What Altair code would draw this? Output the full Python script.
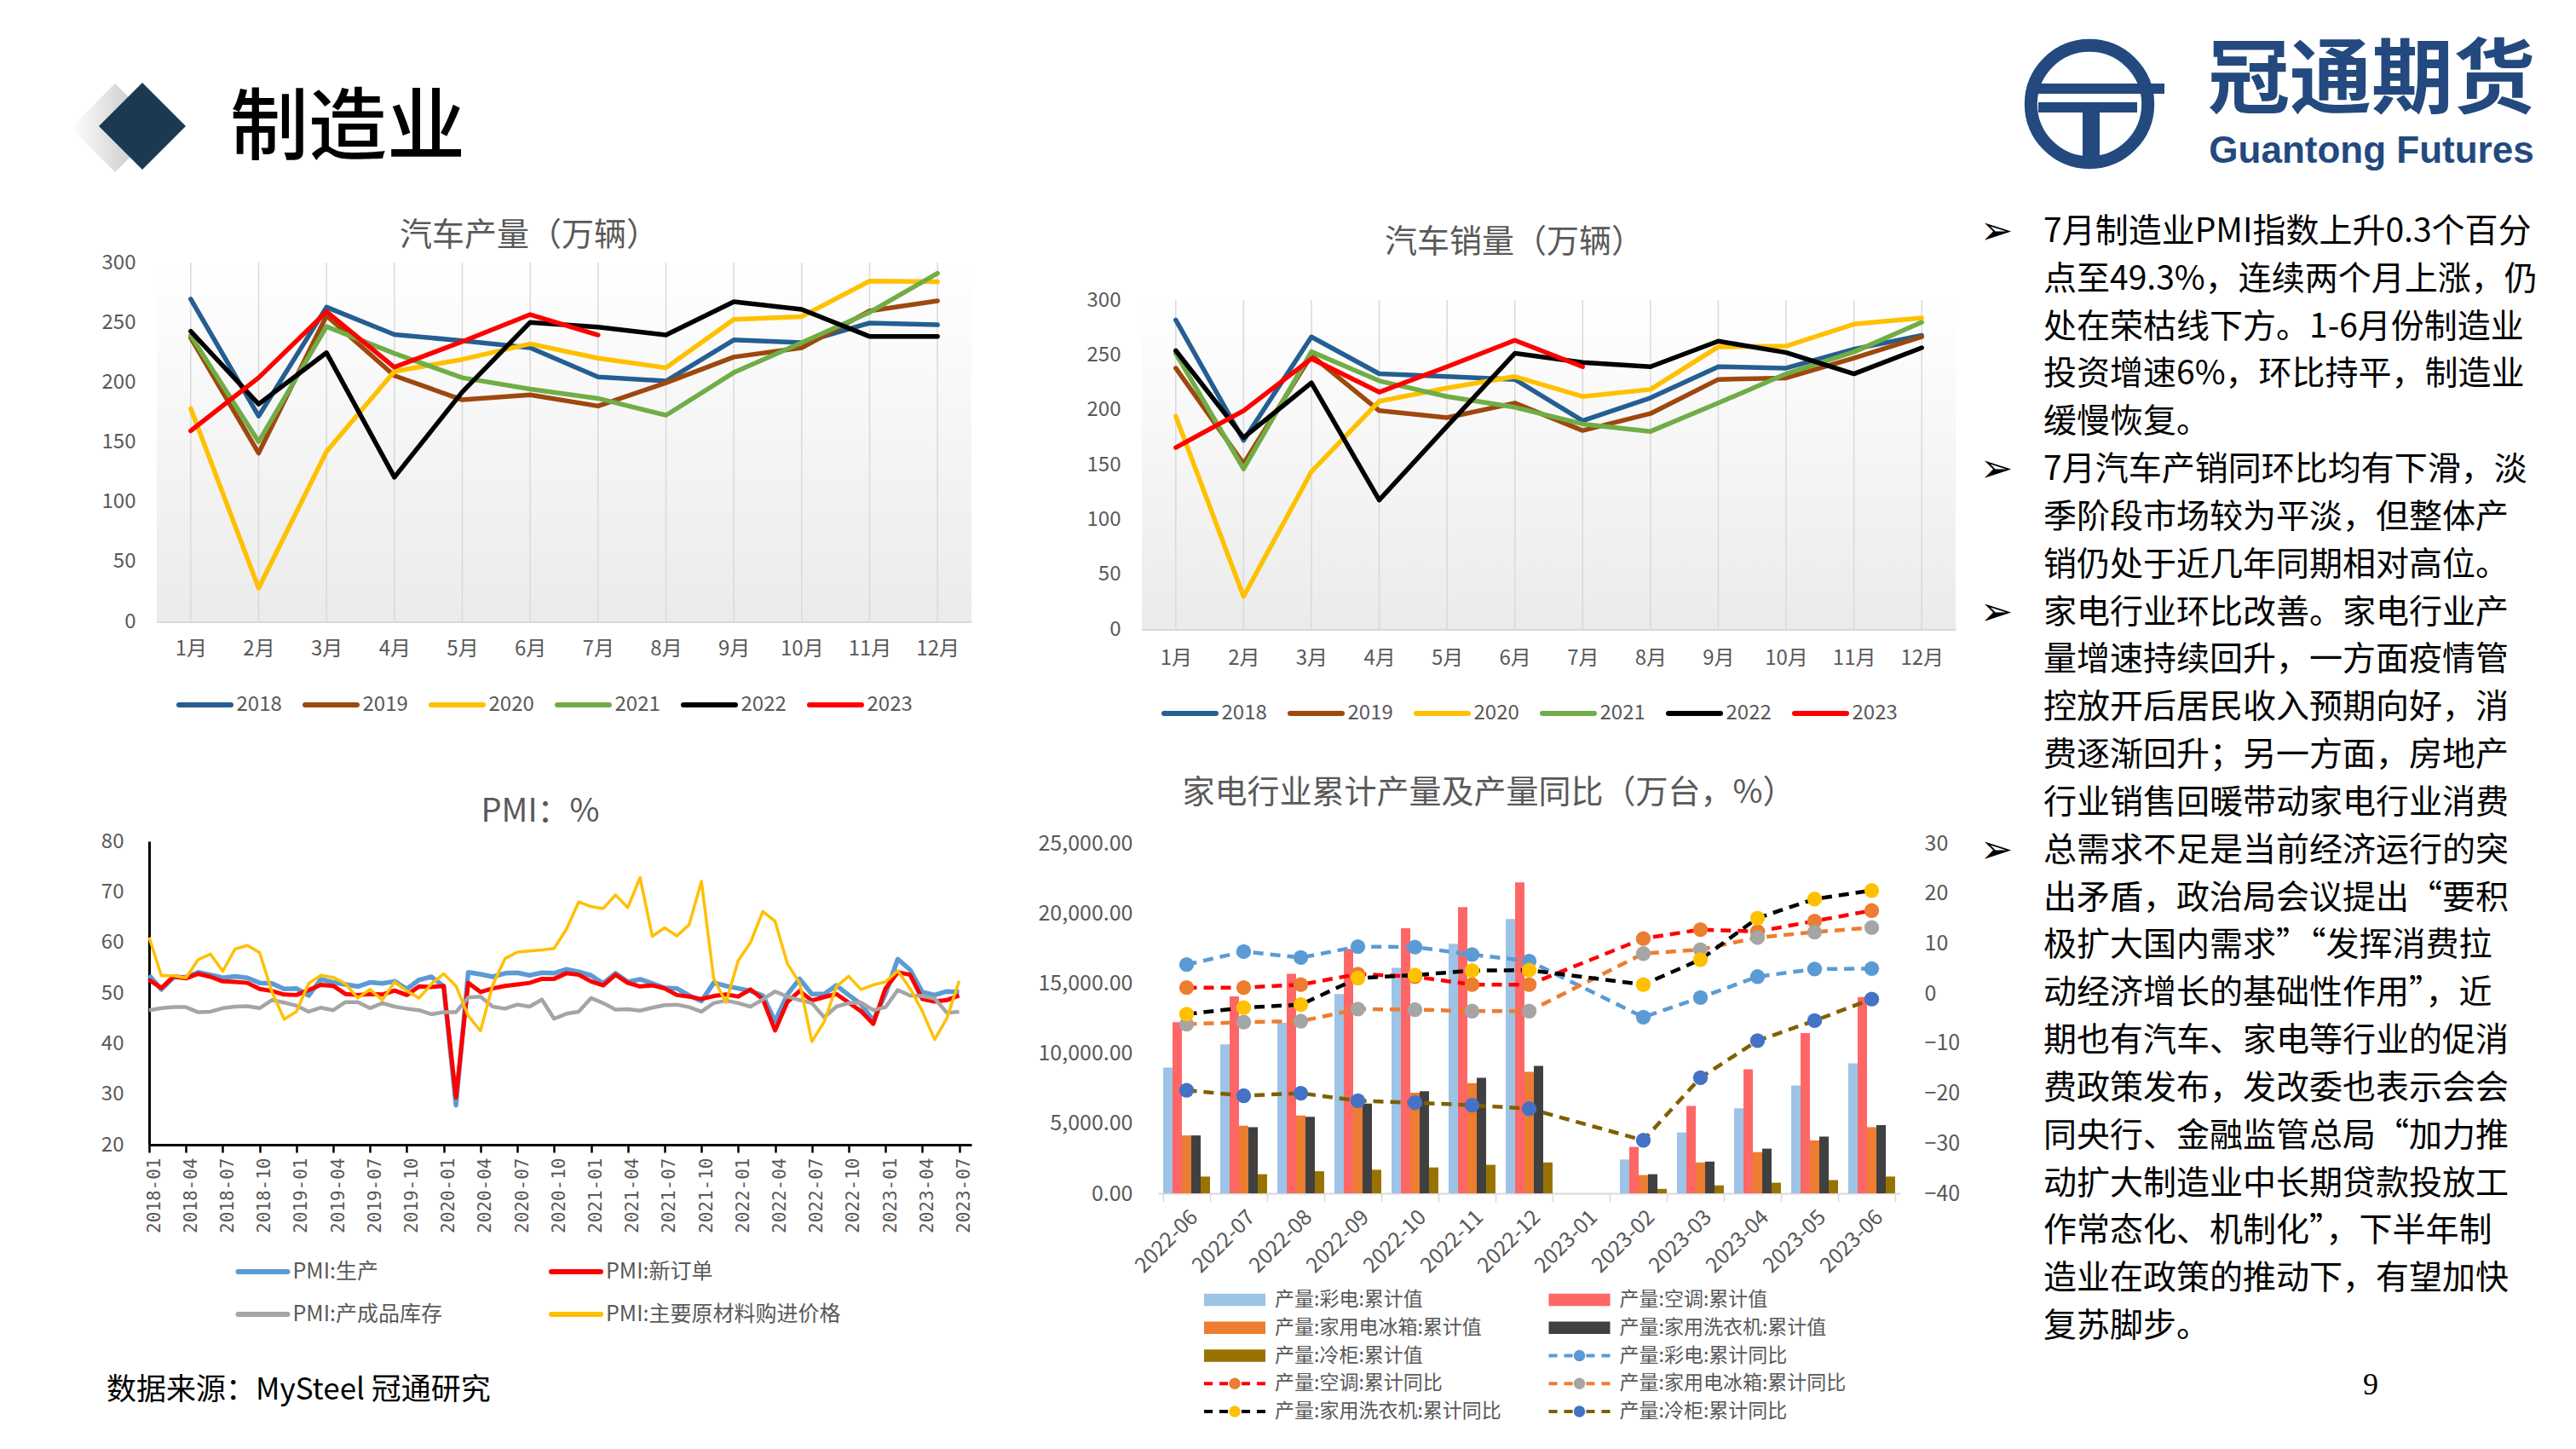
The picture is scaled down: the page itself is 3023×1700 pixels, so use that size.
import json
import altair as alt
import pandas as pd

FONT = "Noto Sans CJK SC"
TXT = "#595959"
W, H = 3007, 1684
M = 8


def px(v):
    return v - M


# ---------------- data ----------------
MONTHS = ["1月", "2月", "3月", "4月", "5月", "6月", "7月", "8月", "9月", "10月", "11月", "12月"]
YEARS = ["2018", "2019", "2020", "2021", "2022", "2023"]
YEAR_COLORS = ["#255E91", "#9E480E", "#FFC000", "#70AD47", "#000000", "#FF0000"]

PROD_2018 = [269.5, 171.6, 262.7, 239.8, 234.6, 228.7, 204.4, 200.9, 235.3, 233.0, 249.4, 247.9]
PROD_2019 = [237.0, 140.7, 255.5, 205.4, 185.2, 189.4, 180.0, 199.4, 221.0, 228.7, 259.6, 267.9]
PROD_2020 = [178.0, 27.8, 142.0, 209.0, 219.0, 232.0, 220.0, 212.0, 252.4, 254.8, 284.5, 284.0]
PROD_2021 = [238.9, 150.2, 246.5, 224.0, 203.7, 194.2, 186.4, 172.3, 208.0, 233.0, 258.4, 291.0]
PROD_2022 = [242.5, 181.6, 224.6, 120.5, 191.8, 250.0, 246.0, 239.4, 267.2, 260.8, 238.2, 238.2]
PROD_2023 = [159.3, 203.7, 258.9, 212.5, 233.9, 256.5, 239.4]

SALES_2018 = [281.9, 172.0, 266.4, 232.8, 230.2, 227.6, 190.0, 210.8, 239.2, 237.9, 255.2, 267.7]
SALES_2019 = [237.9, 150.8, 249.6, 199.1, 192.7, 206.1, 181.0, 196.5, 227.6, 228.9, 247.0, 266.4]
SALES_2020 = [194.0, 29.7, 143.5, 207.7, 219.8, 230.2, 212.0, 218.5, 257.3, 258.0, 278.0, 283.7]
SALES_2021 = [251.4, 146.1, 252.9, 226.3, 212.0, 202.2, 187.0, 180.2, 206.1, 232.7, 252.7, 279.8]
SALES_2022 = [253.9, 174.6, 224.5, 117.7, 184.9, 251.4, 243.0, 239.2, 262.5, 252.1, 232.7, 256.5]
SALES_2023 = [165.5, 199.1, 246.5, 216.0, 239.2, 263.3, 239.2]

PMI_MONTHS = [f"{y}-{m:02d}" for y in range(2018, 2024) for m in range(1, 13)][:67]
PMI_SERIES = ["PMI:生产", "PMI:新订单", "PMI:产成品库存", "PMI:主要原材料购进价格"]
PMI_COLORS = ["#5B9BD5", "#FF0000", "#A5A5A5", "#FFC000"]
PMI_WIDTHS = [5.5, 5, 4.5, 3.5]
PMI_PROD = [53.5, 50.7, 53.1, 53.1, 54.1, 53.6, 53.0, 53.3, 53.0, 52.0, 51.9, 50.8,
            50.9, 49.5, 52.7, 52.1, 51.7, 51.3, 52.1, 51.9, 52.3, 50.8, 52.6, 53.2,
            51.3, 27.8, 54.1, 53.7, 53.2, 53.9, 54.0, 53.5, 54.0, 53.9, 54.7, 54.2,
            53.5, 51.9, 53.9, 52.2, 52.7, 51.9, 51.0, 50.9, 49.5, 48.4, 52.0, 51.4,
            50.9, 50.4, 49.5, 44.4, 49.7, 52.8, 49.8, 49.8, 51.5, 49.6, 47.8, 44.6,
            49.8, 56.7, 54.6, 50.2, 49.6, 50.3, 50.2]
PMI_NEW = [52.6, 51.0, 53.3, 52.9, 53.8, 53.2, 52.3, 52.2, 52.0, 50.8, 50.4, 49.7,
           49.6, 50.6, 51.6, 51.4, 49.8, 49.6, 49.8, 49.7, 50.5, 49.6, 51.3, 51.2,
           51.4, 29.3, 52.0, 50.2, 50.9, 51.4, 51.7, 52.0, 52.8, 52.8, 53.9, 53.6,
           52.3, 51.5, 53.6, 52.0, 51.3, 51.5, 50.9, 49.6, 49.3, 48.8, 49.4, 49.7,
           49.3, 50.7, 48.8, 42.6, 48.2, 50.4, 48.5, 49.2, 49.8, 48.1, 46.4, 43.9,
           50.9, 54.1, 53.6, 48.8, 48.3, 48.6, 49.5]
PMI_INV = [46.6, 47.0, 47.2, 47.2, 46.2, 46.3, 47.0, 47.3, 47.4, 47.0, 48.6, 48.1,
           47.5, 46.3, 47.1, 46.6, 48.2, 48.2, 47.0, 48.0, 47.3, 46.9, 46.6, 45.8,
           46.2, 46.2, 49.1, 49.3, 47.3, 46.9, 47.7, 47.3, 48.7, 44.9, 45.9, 46.3,
           49.0, 48.0, 46.7, 46.8, 46.5, 47.1, 47.6, 47.7, 47.2, 46.3, 48.0, 48.5,
           48.0, 47.3, 48.7, 50.3, 49.3, 48.6, 48.0, 45.2, 47.3, 48.0, 48.1, 46.6,
           47.2, 50.6, 49.5, 49.4, 48.9, 46.1, 46.3]
PMI_PRICE = [61.0, 53.4, 53.4, 53.0, 56.6, 57.7, 54.3, 58.7, 59.4, 58.0, 50.3, 44.8,
             46.3, 51.9, 53.5, 53.1, 51.8, 49.0, 50.7, 48.6, 52.2, 50.4, 49.0, 51.8,
             53.8, 51.4, 45.5, 42.5, 51.6, 56.8, 58.1, 58.3, 58.5, 58.8, 62.6, 68.0,
             67.1, 66.7, 69.4, 66.9, 72.8, 61.2, 62.9, 61.3, 63.5, 72.1, 52.9, 48.1,
             56.4, 60.0, 66.1, 64.2, 55.8, 52.0, 40.4, 44.3, 51.3, 53.3, 50.7, 51.6,
             52.2, 54.4, 50.9, 46.4, 40.8, 45.0, 52.4]

MONTHS4 = ["2022-06", "2022-07", "2022-08", "2022-09", "2022-10", "2022-11", "2022-12",
           "2023-01", "2023-02", "2023-03", "2023-04", "2023-05", "2023-06"]
BAR_SERIES = ["产量:彩电:累计值", "产量:空调:累计值", "产量:家用电冰箱:累计值",
              "产量:家用洗衣机:累计值", "产量:冷柜:累计值"]
LINE_SERIES = ["产量:彩电:累计同比", "产量:空调:累计同比", "产量:家用电冰箱:累计同比",
               "产量:家用洗衣机:累计同比", "产量:冷柜:累计同比"]
BAR_COLORS = ["#9DC3E6", "#FF6666", "#ED7D31", "#404040", "#997300"]
LINE_COLORS = ["#5B9BD5", "#FF0000", "#ED7D31", "#000000", "#7F6000"]
MARKER_COLORS = ["#5B9BD5", "#ED7D31", "#A5A5A5", "#FFC000", "#4472C4"]

TV_CUM = [8975, 10632, 12163, 14218, 16084, 17803, 19565, None, 2412, 4341, 6060, 7696, 9269]
AC_CUM = [12204, 14050, 15664, 17447, 18915, 20424, 22186, None, 3313, 6228, 8849, 11429, 14008]
FRIDGE_CUM = [4131, 4823, 5557, 6400, 7172, 7864, 8661, None, 1300, 2202, 2936, 3775, 4718]
WASHER_CUM = [4131, 4718, 5452, 6396, 7277, 8241, 9101, None, 1363, 2265, 3187, 4047, 4865]
FREEZER_CUM = [1195, 1363, 1573, 1678, 1845, 2034, 2202, None, 315, 566, 755, 944, 1195]

TV_YOY = [5.7, 8.3, 7.1, 9.3, 9.2, 7.7, 6.4, None, -4.8, -0.9, 3.3, 4.8, 4.9]
AC_YOY = [1.1, 1.1, 1.7, 3.8, 3.3, 1.7, 1.7, None, 10.9, 12.7, 12.3, 14.4, 16.5]
FRIDGE_YOY = [-6.2, -5.8, -5.6, -3.2, -3.3, -3.6, -3.6, None, 7.9, 8.7, 11.1, 12.2, 13.1]
WASHER_YOY = [-4.2, -2.9, -2.3, 3.0, 3.6, 4.5, 4.6, None, 1.7, 6.7, 15.0, 18.8, 20.5]
FREEZER_YOY = [-19.4, -20.5, -20.0, -21.5, -21.9, -22.4, -23.1, None, -29.4, -16.9, -9.5, -5.5, -1.2]

TEXT_LINES = [
    "7月制造业PMI指数上升0.3个百分",
    "点至49.3%，连续两个月上涨，仍",
    "处在荣枯线下方。1-6月份制造业",
    "投资增速6%，环比持平，制造业",
    "缓慢恢复。",
    "7月汽车产销同环比均有下滑，淡",
    "季阶段市场较为平淡，但整体产",
    "销仍处于近几年同期相对高位。",
    "家电行业环比改善。家电行业产",
    "量增速持续回升，一方面疫情管",
    "控放开后居民收入预期向好，消",
    "费逐渐回升；另一方面，房地产",
    "行业销售回暖带动家电行业消费",
    "总需求不足是当前经济运行的突",
    "出矛盾，政治局会议提出“要积",
    "极扩大国内需求”“发挥消费拉",
    "动经济增长的基础性作用”，近",
    "期也有汽车、家电等行业的促消",
    "费政策发布，发改委也表示会会",
    "同央行、金融监管总局“加力推",
    "动扩大制造业中长期贷款投放工",
    "作常态化、机制化”，下半年制",
    "造业在政策的推动下，有望加快",
    "复苏脚步。",
]
BULLET_ROWS = [0, 5, 8, 13]

BG_GRAD = {"gradient": "linear", "x1": 0, "y1": 0, "x2": 0, "y2": 1,
           "stops": [{"offset": 0, "color": "#FFFFFF"}, {"offset": 1, "color": "#EBEBEB"}]}


# ---------------- helpers ----------------
def label(text, x, y, size, color=TXT, font=FONT, align="center", weight="normal"):
    return alt.Chart(pd.DataFrame({"t": [text]})).mark_text(
        align=align, baseline="middle", fontSize=size, font=font, color=color, fontWeight=weight
    ).encode(text="t:N", x=alt.value(px(x)), y=alt.value(px(y)))


def year_frame(series):
    rows = []
    for year, vals in zip(YEARS, series):
        for k, v in enumerate(vals):
            rows.append({"m": k + 1, "year": year, "v": v})
    return pd.DataFrame(rows)


def car_panel(df, x0, x1, ybot, ytop, lab_pad):
    n = len(MONTHS)
    xs = alt.Scale(domain=[0.5, n + 0.5], range=[px(x0), px(x1)], nice=False, zero=False)
    ys = alt.Scale(domain=[0, 300], range=[px(ybot), px(ytop)], nice=False, zero=False)
    ax_x = alt.Axis(
        orient="bottom", offset=px(ybot) - H, values=list(range(1, n + 1)),
        labelExpr=f"{json.dumps(MONTHS, ensure_ascii=False)}[datum.value - 1]",
        domain=True, domainColor="#D9D9D9", domainWidth=3, ticks=False, grid=False,
        labelFont=FONT, labelFontSize=24, labelColor=TXT, labelPadding=lab_pad,
        labelFlush=False, labelOverlap=False, title=None)
    ax_y = alt.Axis(
        orient="left", offset=-px(x0), values=list(range(0, 301, 50)),
        domain=False, ticks=False, grid=False, labelFont=FONT, labelFontSize=24,
        labelColor=TXT, labelPadding=25, labelFlush=False, title=None)
    bg = alt.Chart(pd.DataFrame({"a": [0.5], "b": [n + 0.5], "lo": [0], "hi": [300]})).mark_rect(
        color=BG_GRAD).encode(
        x=alt.X("a:Q", scale=xs, axis=ax_x), x2=alt.X2("b"),
        y=alt.Y("lo:Q", scale=ys, axis=ax_y), y2=alt.Y2("hi"))
    grid = alt.Chart(pd.DataFrame({"a": list(range(1, n + 1)), "lo": [0] * n, "hi": [300] * n})).mark_rule(
        color="#D9D9D9", strokeWidth=1.5).encode(
        x=alt.X("a:Q", scale=xs, axis=ax_x),
        y=alt.Y("lo:Q", scale=ys, axis=ax_y), y2=alt.Y2("hi"))
    lines = alt.Chart(df).mark_line(strokeWidth=5.5, strokeJoin="round", strokeCap="round").encode(
        x=alt.X("m:Q", scale=xs, axis=ax_x),
        y=alt.Y("v:Q", scale=ys, axis=ax_y),
        color=alt.Color("year:N", scale=alt.Scale(domain=YEARS, range=YEAR_COLORS), legend=None),
    )
    return alt.layer(bg, grid, lines)


def leg_xy(ncols, nrows, xc, yc):
    if ncols > 1:
        x = alt.X("col:Q", scale=alt.Scale(domain=[0, ncols - 1], range=[px(xc[0]), px(xc[1])],
                                           nice=False, zero=False), axis=None)
    else:
        x = alt.value(px(xc[0]))
    if nrows > 1:
        y = alt.Y("row:Q", scale=alt.Scale(domain=[0, nrows - 1], range=[px(yc[0]), px(yc[1])],
                                           nice=False, zero=False), axis=None)
    else:
        y = alt.value(px(yc[0]))
    return x, y


def leg_frame(labels, ncols):
    return pd.DataFrame({"label": labels,
                         "col": [k % ncols for k in range(len(labels))],
                         "row": [k // ncols for k in range(len(labels))]})


def line_legend(labels, colors, ncols, xc, yc, sym, width, fsize, dx):
    df = leg_frame(labels, ncols)
    nrows = (len(labels) + ncols - 1) // ncols
    x, y = leg_xy(ncols, nrows, xc, yc)
    s = alt.Chart(df).mark_point(shape="M-1,0H1", size=sym ** 2, filled=False, strokeWidth=width,
                                 opacity=1, strokeCap="round").encode(
        x=x, y=y, color=alt.Color("label:N", scale=alt.Scale(domain=labels, range=colors), legend=None))
    t = alt.Chart(df).mark_text(align="left", baseline="middle", dx=dx, fontSize=fsize, font=FONT,
                                color=TXT).encode(x=x, y=y, text="label:N")
    return alt.layer(s, t)


# ---------------- header ----------------
shadow = alt.Chart(pd.DataFrame({"k": [0]})).mark_point(
    shape="diamond", size=104 ** 2, filled=True, opacity=1,
    fill={"gradient": "linear", "x1": 0, "y1": 0, "x2": 1, "y2": 0,
          "stops": [{"offset": 0, "color": "#FFFFFF"}, {"offset": 1, "color": "#B8B8B8"}]}
).encode(x=alt.value(px(135)), y=alt.value(px(150)))
diamond = alt.Chart(pd.DataFrame({"k": [0]})).mark_point(
    shape="diamond", size=102 ** 2, filled=True, opacity=1, color="#1B3A52"
).encode(x=alt.value(px(167)), y=alt.value(px(148)))
head_title = label("制造业", 270, 152, 92, color="#000000", align="left", weight=500)

LOGO = "#23497F"
ring = alt.Chart(pd.DataFrame({"k": [0]})).mark_point(
    shape="circle", size=18869, filled=False, strokeWidth=15, opacity=1, color=LOGO
).encode(x=alt.value(px(2452)), y=alt.value(px(122)))


def logo_rect(x0, x1, y0, y1):
    return alt.Chart(pd.DataFrame({"k": [0]})).mark_rect(color=LOGO).encode(
        x=alt.value(px(x0)), x2=alt.value(px(x1)), y=alt.value(px(y0)), y2=alt.value(px(y1)))


logo = alt.layer(
    ring,
    logo_rect(2388, 2540, 98, 110),
    logo_rect(2392, 2508, 120, 132),
    logo_rect(2444, 2464, 132, 192),
    label("冠通期货", 2783, 96, 96, color=LOGO, weight="bold"),
    label("Guantong Futures", 2783, 178, 44, color=LOGO, font="Liberation Sans", weight="bold"),
)

# ---------------- panel 1 & 2 ----------------
prod_df = year_frame([PROD_2018, PROD_2019, PROD_2020, PROD_2021, PROD_2022, PROD_2023])
sales_df = year_frame([SALES_2018, SALES_2019, SALES_2020, SALES_2021, SALES_2022, SALES_2023])

panel1 = car_panel(prod_df, 184, 1140, 729, 308, 20)
legend1 = line_legend(YEARS, YEAR_COLORS, 6, (240.5, 980.5), (827,), 61, 6, 24, 37)
title1 = label("汽车产量（万辆）", 621, 277, 38)

panel2 = car_panel(sales_df, 1340, 2295, 738, 352, 22)
legend2 = line_legend(YEARS, YEAR_COLORS, 6, (1396.5, 2136.5), (837,), 61, 6, 24, 37)
title2 = label("汽车销量（万辆）", 1777, 285, 38)

# ---------------- panel 3: PMI ----------------
xs3 = alt.Scale(domain=[0, 67], range=[px(175), px(1140)], nice=False, zero=False)
ys3 = alt.Scale(domain=[20, 80], range=[px(1343), px(987)], nice=False, zero=False)
ax3x = alt.Axis(orient="bottom", offset=px(1343) - H, values=list(range(0, 67, 3)),
                labelExpr=f"{json.dumps(PMI_MONTHS)}[datum.value]", labelAngle=270,
                labelFont="DejaVu Sans Mono", labelFontSize=21, labelColor=TXT,
                labelPadding=6, labelOffset=6, domainColor="#000000", domainWidth=3,
                tickColor="#000000", tickWidth=2.5, tickSize=9, grid=False,
                labelFlush=False, labelOverlap=False, title=None)
ax3y = alt.Axis(orient="left", offset=-px(175), values=list(range(20, 81, 10)),
                domainColor="#000000", domainWidth=3, ticks=False, grid=False,
                labelFont=FONT, labelFontSize=24, labelColor=TXT, labelPadding=30,
                labelFlush=False, title=None)
pmi_layers = []
for name, vals, col, wdt in zip(PMI_SERIES, [PMI_PROD, PMI_NEW, PMI_INV, PMI_PRICE], PMI_COLORS, PMI_WIDTHS):
    d = pd.DataFrame({"i": list(range(len(vals))), "v": vals, "s": name})
    pmi_layers.append(
        alt.Chart(d).mark_line(strokeWidth=wdt, color=col, strokeJoin="round").encode(
            x=alt.X("i:Q", scale=xs3, axis=ax3x), y=alt.Y("v:Q", scale=ys3, axis=ax3y)))
panel3 = alt.layer(*pmi_layers)
legend3 = line_legend(PMI_SERIES, PMI_COLORS, 2, (308.5, 676), (1492, 1542), 58, 6, 25, 35)
title3 = label("PMI：%", 634, 953, 38)

# ---------------- panel 4: appliances ----------------
bar_rows = []
for s, vals in zip(BAR_SERIES, [TV_CUM, AC_CUM, FRIDGE_CUM, WASHER_CUM, FREEZER_CUM]):
    for mth, v in zip(MONTHS4, vals):
        if v is not None:
            bar_rows.append({"mon": mth, "s": s, "v": v})
bar_df = pd.DataFrame(bar_rows)
line_rows = []
for s, vals in zip(LINE_SERIES, [TV_YOY, AC_YOY, FRIDGE_YOY, WASHER_YOY, FREEZER_YOY]):
    for mth, v in zip(MONTHS4, vals):
        if v is not None:
            line_rows.append({"mon": mth, "s": s, "v": v})
line_df = pd.DataFrame(line_rows)

xs4 = alt.Scale(type="band", domain=MONTHS4, range=[px(1359), px(2230)], paddingInner=0.18, paddingOuter=0.09)
ysL = alt.Scale(domain=[0, 25000], range=[px(1400), px(989)], nice=False, zero=False)
ysR = alt.Scale(domain=[-40, 30], range=[px(1400), px(989)], nice=False, zero=False)
ax4x = alt.Axis(orient="bottom", offset=px(1400) - H, labelAngle=315, labelFont=FONT, labelFontSize=25,
                labelColor=TXT, labelPadding=5, tickBand="extent", ticks=True, tickColor="#D9D9D9",
                tickSize=10, tickWidth=1.5, domainColor="#D9D9D9", domainWidth=2, grid=False,
                labelOverlap=False, title=None)
ax4L = alt.Axis(orient="left", offset=-px(1359), values=list(range(0, 25001, 5000)), format=",.2f",
                domain=False, ticks=False, grid=False, labelFont=FONT, labelFontSize=25, labelColor=TXT,
                labelPadding=30, labelFlush=False, title=None)
ax4R = alt.Axis(orient="right", offset=px(2230) - W, values=list(range(-40, 31, 10)),
                domain=False, ticks=False, grid=False, labelFont=FONT, labelFontSize=25, labelColor=TXT,
                labelPadding=28, labelFlush=False, title=None)

bars = alt.Chart(bar_df).mark_bar().encode(
    x=alt.X("mon:N", scale=xs4, axis=ax4x),
    xOffset=alt.XOffset("s:N", scale=alt.Scale(domain=BAR_SERIES)),
    y=alt.Y("v:Q", scale=ysL, axis=ax4L),
    color=alt.Color("s:N", scale=alt.Scale(domain=BAR_SERIES, range=BAR_COLORS), legend=None),
)
yoy_lines = alt.Chart(line_df).mark_line(strokeDash=[12, 8], strokeWidth=4.5).encode(
    x=alt.X("mon:N", scale=xs4, axis=ax4x),
    y=alt.Y("v:Q", scale=ysR, axis=ax4R),
    color=alt.Color("s:N", scale=alt.Scale(domain=LINE_SERIES, range=LINE_COLORS), legend=None),
)
yoy_pts = alt.Chart(line_df).mark_circle(size=300, opacity=1).encode(
    x=alt.X("mon:N", scale=xs4, axis=ax4x),
    y=alt.Y("v:Q", scale=ysR, axis=ax4R),
    fill=alt.Fill("s:N", scale=alt.Scale(domain=LINE_SERIES, range=MARKER_COLORS), legend=None),
)
panel4 = alt.layer(bars, alt.layer(yoy_lines, yoy_pts)).resolve_scale(y="independent", color="independent")
title4 = label("家电行业累计产量及产量同比（万台，%）", 1747, 931, 38)

# legend 4 (2 columns x 5 rows)
ALL4 = BAR_SERIES + LINE_SERIES
l4 = leg_frame(ALL4, 2)
l4["kind"] = ["bar"] * len(BAR_SERIES) + ["line"] * len(LINE_SERIES)
x4, y4 = leg_xy(2, 5, (1449, 1853.5), (1525, 1656))
SYM4 = 72
leg_bar = alt.Chart(l4[l4["kind"] == "bar"]).mark_point(
    shape="M-1,-0.2H1V0.2H-1Z", size=SYM4 ** 2, filled=True, opacity=1).encode(
    x=x4, y=y4, color=alt.Color("label:N", scale=alt.Scale(domain=BAR_SERIES, range=BAR_COLORS), legend=None))
leg_dash = alt.Chart(l4[l4["kind"] == "line"]).mark_point(
    shape="M-1,0H-0.72M-0.5,0H-0.22M0.22,0H0.5M0.72,0H1", size=SYM4 ** 2, filled=False,
    strokeWidth=4, opacity=1).encode(
    x=x4, y=y4, color=alt.Color("label:N", scale=alt.Scale(domain=LINE_SERIES, range=LINE_COLORS), legend=None))
leg_dot = alt.Chart(l4[l4["kind"] == "line"]).mark_point(
    shape="circle", size=180, filled=True, opacity=1).encode(
    x=x4, y=y4, color=alt.Color("label:N", scale=alt.Scale(domain=LINE_SERIES, range=MARKER_COLORS), legend=None))
leg_txt = alt.Chart(l4).mark_text(align="left", baseline="middle", dx=47, fontSize=23, font=FONT,
                                  color=TXT).encode(x=x4, y=y4, text="label:N")
legend4 = alt.layer(leg_bar, leg_dash, leg_dot, leg_txt).resolve_scale(color="independent")

# ---------------- text block ----------------
tdf = pd.DataFrame({"i": list(range(len(TEXT_LINES))), "line": TEXT_LINES})
ysc = alt.Scale(domain=[0, len(TEXT_LINES) - 1], range=[px(272), px(1556)], nice=False, zero=False)
body = alt.Chart(tdf).mark_text(align="left", baseline="middle", font=FONT, fontSize=39,
                                color="#000000").encode(
    x=alt.value(px(2398)), y=alt.Y("i:Q", scale=ysc, axis=None), text="line:N")
bul = alt.Chart(pd.DataFrame({"i": BULLET_ROWS, "b": ["➢"] * len(BULLET_ROWS)})).mark_text(
    align="center", baseline="middle", font="DejaVu Sans", fontSize=46, color="#000000").encode(
    x=alt.value(px(2343)), y=alt.Y("i:Q", scale=ysc, axis=None), text="b:N")
block = alt.layer(body, bul)

footnote = label("数据来源：MySteel 冠通研究", 125, 1631, 35, color="#000000", align="left")
pagenum = label("9", 2782, 1625, 36, color="#000000", font="Liberation Serif")

chart = alt.layer(
    shadow, diamond, head_title, logo,
    panel1, legend1, title1,
    panel2, legend2, title2,
    panel3, legend3, title3,
    panel4, legend4, title4,
    block, footnote, pagenum,
).resolve_scale(
    x="independent", y="independent", color="independent", fill="independent", xOffset="independent"
).properties(
    width=W, height=H, autosize=alt.AutoSizeParams(type="none"), padding=0, background="#FFFFFF"
).configure(font=FONT).configure_view(stroke=None)

chart.save("out.html", embed_options={"renderer": "svg", "actions": False})
